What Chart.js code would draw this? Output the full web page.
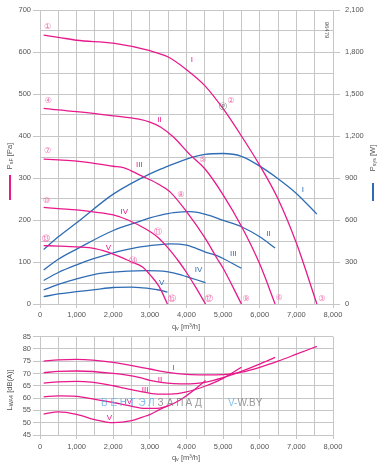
<!DOCTYPE html>
<html>
<head>
<meta charset="utf-8">
<script src="https://cdn.jsdelivr.net/npm/chart.js@4.4.0/dist/chart.umd.min.js"></script>
<style>
  html, body { margin: 0; padding: 0; background: #fff; }
  #wrap { position: relative; width: 386px; height: 466px; overflow: hidden; }
  #top { position: absolute; left: 0; top: 0; }
  #bot { position: absolute; left: 0; top: 330px; }
</style>
</head>
<body>
<div id="wrap">
  <canvas id="top" width="386" height="335"></canvas>
  <canvas id="bot" width="386" height="136"></canvas>
</div>
<script>
// ---- data (q in m³/h, p in Pa, P in W, L in dB(A)) ----
const qI   = [100, 500, 1000, 2000, 3000, 3500, 4000, 4500, 5000, 5500, 6000, 6500, 7000, 7560];
const pI   = [640, 635, 628, 621, 603, 588, 558, 520, 465, 400, 330, 250, 145, 0];
const wI   = [390, 480, 580, 785, 930, 985, 1035, 1068, 1075, 1055, 985, 895, 790, 642];
const lI   = [75.0, 75.5, 75.7, 74.5, 71.8, 70.4, 69.6, 69.4, 69.5, 70.5, 72.5, 75.0, 77.8, 81.0];

const qII  = [100, 500, 1000, 2000, 2700, 3000, 3300, 3650, 4100, 4500, 5000, 5500, 6000, 6420];
const pII  = [466, 462, 458, 448, 440, 433, 421, 397, 355, 322, 260, 185, 95, 0];
const wII  = [243, 320, 392, 525, 588, 615, 635, 652, 660, 642, 598, 552, 480, 400];
const lII  = [70.3, 70.8, 71.0, 70.0, 68.4, 67.2, 66.4, 65.9, 65.8, 66.4, 68.3, 70.8, 73.8, 76.5];

const qIII = [100, 500, 1000, 1400, 2000, 2300, 2700, 3200, 3550, 4000, 4500, 4830, 5000, 5500];
const pIII = [345, 343, 340, 336, 328, 324, 308, 287, 267, 220, 158, 109, 85, 0];
const wIII = [168, 225, 280, 318, 365, 385, 407, 423, 430, 420, 373, 345, 325, 255];
const lIII = [66.1, 66.6, 66.8, 66.5, 65.0, 64.0, 62.8, 61.6, 61.6, 62.5, 64.8, 66.8, 68.0, 72.5];

const qIV  = [100, 500, 1000, 1500, 2000, 2400, 2900, 3200, 3500, 3800, 4000, 4250, 4520];
const pIV  = [230, 227, 224, 219, 212, 200, 178, 160, 133, 100, 75, 40, 0];
const wIV  = [100, 140, 180, 212, 228, 235, 238, 237, 230, 212, 195, 175, 152];
const lIV  = [60.5, 60.9, 60.7, 59.5, 58.2, 57.0, 55.8, 55.8, 56.8, 59.0, 61.0, 63.8, 67.1];

const qV   = [100, 500, 1000, 1500, 2000, 2500, 2800, 3000, 3250, 3480];
const pV   = [139, 138, 136, 132, 119, 100, 88, 70, 42, 0];
const wV   = [52, 72, 88, 103, 118, 120, 115, 110, 100, 85];
const lV   = [53.5, 54.4, 53.4, 51.2, 50.0, 50.8, 52.3, 53.3, 55.2, 56.8];

// tick values
const qTicks = [0, 1000, 2000, 3000, 4000, 5000, 6000, 7000, 8000];
const pTicks = [0, 100, 200, 300, 400, 500, 600, 700];
const wTicks = [0, 300, 600, 900, 1200, 1500, 1800, 2100];
const lTicks = [45, 50, 55, 60, 65, 70, 75, 80, 85];

// curve markers (operating points) and labels, in data coordinates
const pointNames = ['①','②','③','④','⑤','⑥','⑦','⑧','⑨','⑩','⑪','⑫','⑬','⑭','⑮'];
const pointQ = [210, 5210, 7696, 227, 4445, 6530, 210, 3843, 5628, 183, 3232, 4617, 155, 2550, 3598];
const pointP = [660, 483, 11, 483, 343, 14, 364, 260, 11, 246, 172, 11, 154, 103, 11];

const romans = ['I', 'II', 'III', 'IV', 'V'];
const pinkLabelQ = [4144, 3260, 2713, 2304, 1866];
const pinkLabelP = [581, 438, 331, 220, 135];
const blueLabelQ = [7177, 6238, 5282, 4326, 3324];
const blueLabelW = [819, 505, 362, 243, 152];
const soundLabelQ = [3642, 3279, 2869, 2413, 1894];
const soundLabelL = [72.3, 67.5, 63.4, 58.4, 52.1];

const PINK = '#e8198b';
const BLUE = '#2e6cb4';
const GRID = '#c6c6c6';
const TXT = '#555';
const FONT = 'Liberation Sans';

const pts = (q, v) => q.map((x, i) => ({ x: x, y: v[i] }));

function line(data, color, axis) {
    return {
        data: data,
        borderColor: color,
        borderWidth: 1.3,
        pointRadius: 0,
        fill: false,
        cubicInterpolationMode: 'monotone',
        yAxisID: axis || 'y'
    };
}

function richText(ctx, parts, x, y, rot, size, color) {
    ctx.save();
    ctx.translate(x, y);
    ctx.rotate(rot);
    let w = 0;
    parts.forEach(p => {
        ctx.font = (p[1] ? size * 0.72 : size) + 'px ' + FONT;
        w += ctx.measureText(p[0]).width;
    });
    let cx = -w / 2;
    ctx.fillStyle = color;
    ctx.textBaseline = 'middle';
    ctx.textAlign = 'left';
    parts.forEach(p => {
        ctx.font = (p[1] ? size * 0.72 : size) + 'px ' + FONT;
        ctx.fillText(p[0], cx, p[1] ? 2 : 0);
        cx += ctx.measureText(p[0]).width;
    });
    ctx.restore();
}

const tickFont = { family: FONT, size: 7.5 };
const fmt = v => v.toLocaleString('en-US');

// =======================================================
// TOP CHART: pressure + power
// =======================================================
const topLabels = {
    id: 'topLabels',
    afterDatasetsDraw(chart) {
        const ctx = chart.ctx, x = chart.scales.x, y = chart.scales.y, y2 = chart.scales.y2;
        ctx.save();
        ctx.textAlign = 'center';
        ctx.textBaseline = 'middle';
        ctx.font = '8px DejaVu Sans';
        ctx.fillStyle = '#f070b0';
        pointNames.forEach((n, i) => ctx.fillText(n, x.getPixelForValue(pointQ[i]), y.getPixelForValue(pointP[i])));
        // grey marker on curve I
        ctx.fillStyle = '#777';
        ctx.fillText('Ⓟ', x.getPixelForValue(4991), y.getPixelForValue(469));
        ctx.font = '8px ' + FONT;
        romans.forEach((r, i) => {
            ctx.fillStyle = PINK;
            ctx.fillText(r, x.getPixelForValue(pinkLabelQ[i]), y.getPixelForValue(pinkLabelP[i]));
            ctx.fillStyle = BLUE;
            ctx.fillText(r, x.getPixelForValue(blueLabelQ[i]), y2.getPixelForValue(blueLabelW[i]));
        });
        ctx.restore();
    },
    afterDraw(chart) {
        const ctx = chart.ctx;
        richText(ctx, [['P', 0], ['sF', 1], [' [Pa]', 0]], 10, 156, -Math.PI / 2, 7.5, TXT);
        richText(ctx, [['P', 0], ['sys', 1], [' [W]', 0]], 373, 158, -Math.PI / 2, 7.5, TXT);
        richText(ctx, [['q', 0], ['v', 1], [' [m³/h]', 0]], 186, 327, 0, 7.5, TXT);
        richText(ctx, [['96479', 0]], 327, 30, Math.PI / 2, 6, TXT);
        ctx.save();
        ctx.fillStyle = PINK;
        ctx.fillRect(9, 175, 2, 25);
        ctx.fillStyle = BLUE;
        ctx.fillRect(372, 183, 2, 18);
        ctx.restore();
    }
};

new Chart(document.getElementById('top'), {
    type: 'line',
    data: {
        datasets: [
            line(pts(qI, pI), PINK), line(pts(qII, pII), PINK), line(pts(qIII, pIII), PINK),
            line(pts(qIV, pIV), PINK), line(pts(qV, pV), PINK),
            line(pts(qI, wI), BLUE, 'y2'), line(pts(qII, wII), BLUE, 'y2'), line(pts(qIII, wIII), BLUE, 'y2'),
            line(pts(qIV, wIV), BLUE, 'y2'), line(pts(qV, wV), BLUE, 'y2')
        ]
    },
    options: {
        responsive: false,
        animation: false,
        layout: { padding: { top: 10, bottom: 0, left: 0, right: 0 } },
        plugins: { legend: { display: false }, tooltip: { enabled: false } },
        scales: {
            x: {
                type: 'linear', min: qTicks[0], max: qTicks[qTicks.length - 1],
                ticks: { stepSize: 500, autoSkip: false, maxRotation: 0, font: tickFont, color: TXT, padding: 2,
                         callback: v => qTicks.includes(v) ? fmt(v) : '' },
                grid: { color: GRID, tickLength: 4, tickColor: c => qTicks.includes(c.tick.value) ? GRID : 'transparent' },
                border: { color: GRID },
                afterFit: s => { s.height = 31; }
            },
            y: {
                position: 'left', min: pTicks[0], max: pTicks[pTicks.length - 1],
                ticks: { stepSize: 50, autoSkip: false, font: tickFont, color: TXT, padding: 2,
                         callback: v => pTicks.includes(v) ? fmt(v) : '' },
                grid: { color: GRID, tickLength: 7, tickColor: c => pTicks.includes(c.tick.value) ? GRID : 'transparent' },
                border: { color: GRID },
                afterFit: s => { s.width = 40; }
            },
            y2: {
                position: 'right', min: wTicks[0], max: wTicks[wTicks.length - 1],
                ticks: { stepSize: 300, autoSkip: false, font: tickFont, color: TXT, padding: 5, callback: v => fmt(v) },
                grid: { drawOnChartArea: false, color: GRID, tickLength: 7 },
                border: { color: GRID },
                afterFit: s => { s.width = 53; }
            }
        }
    },
    plugins: [topLabels]
});

// =======================================================
// BOTTOM CHART: sound power
// =======================================================
const botLabels = {
    id: 'botLabels',
    afterDatasetsDraw(chart) {
        const ctx = chart.ctx, x = chart.scales.x, y = chart.scales.y;
        ctx.save();
        ctx.textAlign = 'center';
        ctx.textBaseline = 'middle';
        ctx.font = '8px ' + FONT;
        ctx.fillStyle = PINK;
        romans.forEach((r, i) => ctx.fillText(r, x.getPixelForValue(soundLabelQ[i]), y.getPixelForValue(soundLabelL[i])));
        ctx.restore();
    },
    afterDraw(chart) {
        const ctx = chart.ctx;
        richText(ctx, [['L', 0], ['WA4', 1], [' [dB(A)]', 0]], 10, 60, -Math.PI / 2, 7.5, TXT);
        richText(ctx, [['q', 0], ['v', 1], [' [m³/h]', 0]], 186, 128, 0, 7.5, TXT);
        // watermark
        ctx.save();
        ctx.font = '10px ' + FONT;
        ctx.textBaseline = 'middle';
        ctx.textAlign = 'left';
        const wm = 'ВЕНТЭЛЗАПАД';
        for (let i = 0; i < wm.length; i++) {
            ctx.fillStyle = i < 6 ? 'rgba(90,170,225,0.75)' : 'rgba(120,120,120,0.75)';
            ctx.fillText(wm[i], 101 + i * 9.4, 73);
        }
        ctx.fillStyle = 'rgba(90,170,225,0.75)';
        ctx.fillText('V-', 228, 73);
        ctx.fillStyle = 'rgba(120,120,120,0.75)';
        ctx.fillText('W.BY', 228 + ctx.measureText('V-').width, 73);
        ctx.restore();
    }
};

new Chart(document.getElementById('bot'), {
    type: 'line',
    data: {
        datasets: [
            line(pts(qI, lI), PINK), line(pts(qII, lII), PINK), line(pts(qIII, lIII), PINK),
            line(pts(qIV, lIV), PINK), line(pts(qV, lV), PINK)
        ]
    },
    options: {
        responsive: false,
        animation: false,
        layout: { padding: { top: 6, bottom: 0, left: 0, right: 53 } },
        plugins: { legend: { display: false }, tooltip: { enabled: false } },
        scales: {
            x: {
                type: 'linear', min: qTicks[0], max: qTicks[qTicks.length - 1],
                ticks: { stepSize: 500, autoSkip: false, maxRotation: 0, font: tickFont, color: TXT, padding: 3,
                         callback: v => qTicks.includes(v) ? fmt(v) : '' },
                grid: { color: GRID, tickLength: 4, tickColor: c => qTicks.includes(c.tick.value) ? GRID : 'transparent' },
                border: { color: GRID },
                afterFit: s => { s.height = 31; }
            },
            y: {
                min: lTicks[0], max: lTicks[lTicks.length - 1],
                ticks: { stepSize: 5, autoSkip: false, font: tickFont, color: TXT, padding: 2 },
                grid: { color: GRID, tickLength: 7 },
                border: { color: GRID },
                afterFit: s => { s.width = 40; }
            }
        }
    },
    plugins: [botLabels]
});
</script>
</body>
</html>
